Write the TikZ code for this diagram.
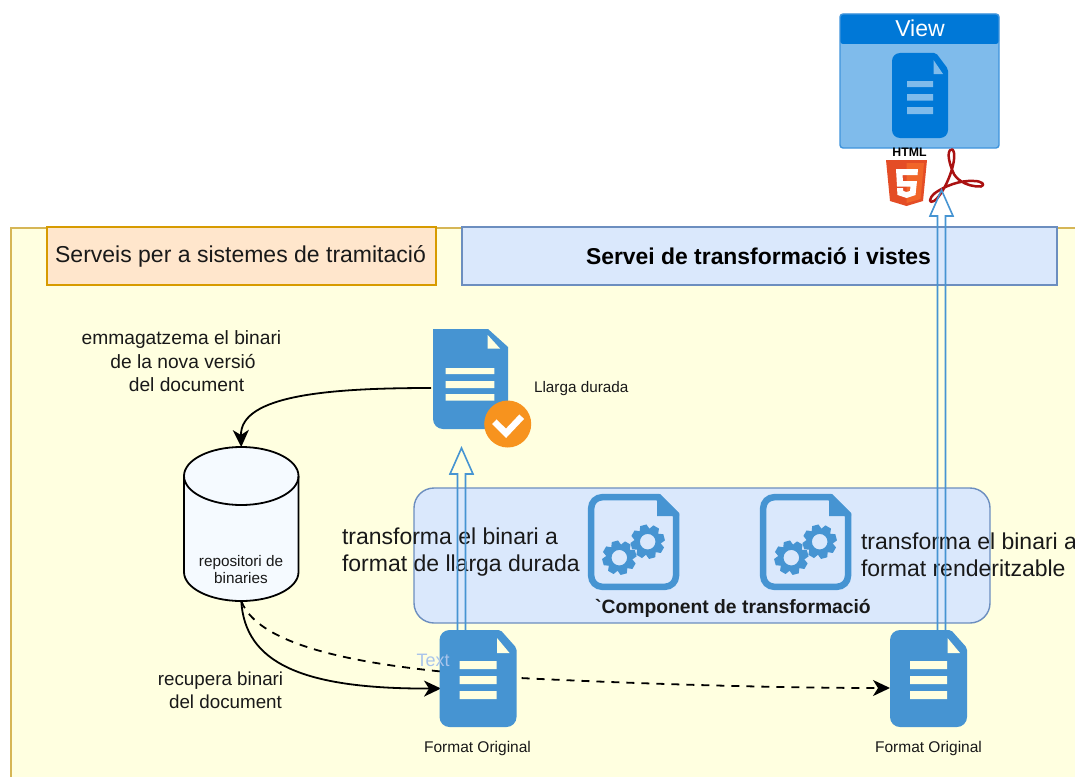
\documentclass[tikz,border=0pt]{standalone}
\usepackage{fontspec}
\setmainfont{Liberation Sans}
\usetikzlibrary{arrows.meta,calc}
\definecolor{panel}{HTML}{FFFFE0}
\definecolor{panelline}{HTML}{D6B656}
\definecolor{orangefill}{HTML}{FFE6CC}
\definecolor{orangeline}{HTML}{D79B00}
\definecolor{bluefill}{HTML}{DAE8FC}
\definecolor{blueline}{HTML}{6C8EBF}
\definecolor{iconblue}{HTML}{4694D2}
\definecolor{viewblue}{HTML}{0078D7}
\definecolor{viewbody}{HTML}{7FBBEB}
\definecolor{viewline}{HTML}{3F94DC}
\definecolor{textblue}{HTML}{A9C4EB}
\definecolor{badge}{HTML}{F7931E}
\definecolor{pdfred}{HTML}{AA1111}
\definecolor{htmldark}{HTML}{E44D26}
\definecolor{htmllight}{HTML}{F16529}
\definecolor{cylfill}{HTML}{F5FAFF}
\newcommand\fs[2]{\fontsize{#1}{#2}\selectfont}
\tikzset{
  lbl/.style={inner sep=0,outer sep=0,align=center,text=black!90},
  anchorbox/.style={inner sep=0,outer sep=0,anchor=north west},
  link/.style={black,line width=1.8pt,-{Stealth[length=17pt,width=16pt,inset=5pt]}},
  hollow/.style={draw=iconblue,line width=1.6pt,line join=miter},
}
\newcommand\hollowarrow[2]{\draw[hollow] ($(#1)+(-4,0)$) -- ($(#2)+(-4,26)$) -- ($(#2)+(-11.5,26)$) -- (#2) -- ($(#2)+(11.5,26)$) -- ($(#2)+(4,26)$) -- ($(#1)+(4,0)$);}
\newcommand\origdoc[2]{\begin{scope}[shift={(#1,#2)}]
  \fill[iconblue,rounded corners=10pt] (30,0) [rounded corners=2pt] -- (61,0) -- (77,18) [rounded corners=10pt] -- (77,97) -- (0,97) -- (0,0) -- cycle;
  \fill[panel] (57.5,8) -- (57.5,23) -- (70,23) -- cycle;
  \fill[panel] (20,31) rectangle (57,39) (20,46) rectangle (57,54) (20,61) rectangle (57,69);
\end{scope}}
\newcommand\gearshape[2]{\begin{scope}[shift={(#1,#2)}]
  \fill[iconblue,even odd rule] (0,0) circle (13) (0,0) circle (7.8);
  \foreach \a in {15,60,...,330} \fill[iconblue,rotate=\a] (-3.2,-17) -- (3.2,-17) -- (5.5,-11) -- (-5.5,-11) -- cycle;
\end{scope}}
\newcommand\gearfile[2]{\begin{scope}[shift={(#1,#2)}]
  \draw[iconblue,line width=6.5pt,rounded corners=11pt] (36,3.2) -- (3.2,3.2) -- (3.2,92.8) -- (88,92.8) [sharp corners] -- (88,21) -- (70,3.2) -- cycle;
  \fill[iconblue] (69,0) -- (72,0) -- (91,19) -- (91,22) -- (69,22) -- cycle;
  \gearshape{31.3}{63.7}
  \gearshape{59.7}{47.7}
\end{scope}}
\begin{document}
\begin{tikzpicture}[x=1pt,y=-1pt]
\useasboundingbox (0,0) rectangle (1075,776);
\fill[white] (0,0) rectangle (1075,776);
% panel and headers
\path[fill=panel,draw=panelline,line width=2pt] (10.5,227.5) -- (1080,227.5) -- (1080,780) -- (10.5,780) -- cycle;
\node[draw=orangeline,fill=orangefill,line width=1.4pt,minimum width=389pt,minimum height=58pt,anchorbox,text=black!90,font=\fs{23}{23}] (svc) at (47,227) {\raisebox{-2pt}{\hspace{-2pt}Serveis per a sistemes de tramitació}};
\node[draw=blueline,fill=bluefill,line width=1.4pt,minimum width=595pt,minimum height=58pt,anchorbox,font=\fs{22.9}{23}\bfseries] (svt) at (462,227) {\raisebox{-1pt}{\hspace{-2pt}Servei de transformació i vistes}};
% component box
\node[draw=blueline,fill=bluefill,line width=1.4pt,rounded corners=20pt,minimum width=576pt,minimum height=135pt,anchorbox] (comp) at (414,488) {};
\node[lbl,font=\fs{19.3}{20}\bfseries] (compt) at (733,608) {\textasciigrave Component de transformació};
\gearfile{588}{494}
\gearfile{760}{494}
\node[lbl,align=left,anchor=west,font=\fs{23}{27}] (t1) at (342,552.5) {transforma el binari a\\format de llarga durada};
\node[lbl,align=left,anchor=west,font=\fs{23}{27}] (t2) at (861,554.5) {transforma el binari a\\format renderitzable};
% view box
\fill[viewbody,rounded corners=3pt] (840,14) rectangle (999,148);
\fill[viewblue,rounded corners=3pt] (840,14) rectangle (999,44);
\draw[viewline,line width=1.4pt,rounded corners=3pt] (840,14) rectangle (999,148);
\node[lbl,text=white,font=\fs{23}{23}] (view) at (920,28) {View};
\fill[viewblue,rounded corners=8pt] (920,53) [rounded corners=2pt] -- (936,53) -- (948,69) [rounded corners=8pt] -- (948,138) -- (892,138) -- (892,53) -- cycle;
\fill[viewbody] (933.5,60) -- (933.5,74) -- (943,74) -- cycle;
\fill[viewbody] (907,81) rectangle (933,87) (907,94) rectangle (933,100.5) (907,107) rectangle (933,114);
% html5 logo
\node[lbl,text=black,font=\fs{12.3}{13}\bfseries] (htmlt) at (909.5,152) {HTML};
\fill[htmldark] (886,160) -- (927,160) -- (923,201) -- (906.5,206) -- (890,201) -- cycle;
\fill[htmllight] (906.5,163) -- (924,163) -- (920.5,199) -- (906.5,203) -- cycle;
\fill[white] (896,169) -- (918,169) -- (917.5,175) -- (902.5,175) -- (903,181) -- (917,181) -- (915.5,195) -- (906.5,198) -- (897.5,195) -- (897,188) -- (903,188) -- (903.3,191) -- (906.5,192) -- (910,191) -- (910.5,186.5) -- (897,186.5) -- cycle;
% pdf logo
\draw[pdfred,line width=2.5pt,line join=round] (951,149.5) .. controls (946,152) and (950,165) .. (953,172) .. controls (955,178) and (965,187) .. (981,186.5) .. controls (986,185) and (982,181) .. (974,181) .. controls (960,180) and (945,186) .. (935,193) .. controls (928,199) and (929,204) .. (934,201) .. controls (944,194) and (956,165) .. (954,153) .. controls (953,149) and (952,149) .. (951,149.5);
% documents
\node[anchorbox,minimum width=75pt,minimum height=100pt] (longterm) at (433,329) {};
\fill[iconblue] (433,329) -- (488,329) -- (508,347) -- (508,429) -- (443,429) arc[start angle=90,end angle=180,radius=10] -- cycle;
\fill[panel] (487.7,335) -- (487.7,348.5) -- (500,348.5) -- cycle;
\fill[panel] (445.7,368) rectangle (494.3,374) (445.7,381) rectangle (494.3,388) (445.7,394) rectangle (494.3,400.7);
\fill[badge] (507.7,424) circle (23.5);
\draw[white,line width=6.5pt] (494.3,421.7) -- (506,433.3) -- (521.7,416.7);
\node[lbl,anchor=west,font=\fs{15.3}{16}] (lt) at (534,389) {Llarga durada};
\node[anchorbox,minimum width=77pt,minimum height=97pt] (doca) at (439.5,630) {};
\node[anchorbox,minimum width=77pt,minimum height=97pt] (docb) at (890,630) {};
\node[lbl,font=\fs{15.5}{16}] (fa) at (477.5,748) {Format Original};
\node[lbl,font=\fs{15.5}{16}] (fb) at (928.5,748) {Format Original};
% cylinder
\node[anchorbox,minimum width=114.5pt,minimum height=154pt] (cyl) at (184,447) {};
\filldraw[fill=cylfill,draw=black,line width=1.8pt] (184,476) arc[start angle=180,end angle=360,x radius=57.25,y radius=29] -- (298.5,572) arc[start angle=0,end angle=180,x radius=57.25,y radius=29] -- cycle;
\draw[black,line width=1.8pt] (184,476) arc[start angle=180,end angle=0,x radius=57.25,y radius=29];
\node[lbl,font=\fs{15.3}{17}] (cylt) at (241,570) {repositori de\\binaries};
% labels
\node[lbl,font=\fs{19.2}{23.5}] (l1) at (181.5,361.5) {emmagatzema el binari\\\hspace*{3pt}de la nova versió\\\hspace*{10pt}del document};
\node[lbl,font=\fs{18.8}{23}] (l2) at (220.5,690.5) {recupera binari\\\hspace*{10pt}del document};
% connectors
\coordinate (ltout) at (431,388);
\coordinate (inA) at (441,688.5);
\coordinate (inB) at (890,688);
\coordinate (tipA) at (461.5,448);
\coordinate (tipB) at (941.5,190);
\draw[link] (ltout) .. controls (330,388) and (240,395) .. (cyl.north);
\draw[link] (cyl.south) .. controls (245,662) and (300,689) .. (inA);
\draw[link,dash pattern=on 8pt off 7pt] (cyl.south) .. controls (262,655) and (400,670) .. (520,678) .. controls (640,684) and (780,688) .. (inB);
\origdoc{439.5}{630}
\origdoc{890}{630}
\node[lbl,text=textblue,font=\fs{18}{18}] (txt) at (433,660) {Text};
\hollowarrow{doca.north -| tipA}{tipA}
\hollowarrow{docb.north -| tipB}{tipB}
\end{tikzpicture}
\end{document}
